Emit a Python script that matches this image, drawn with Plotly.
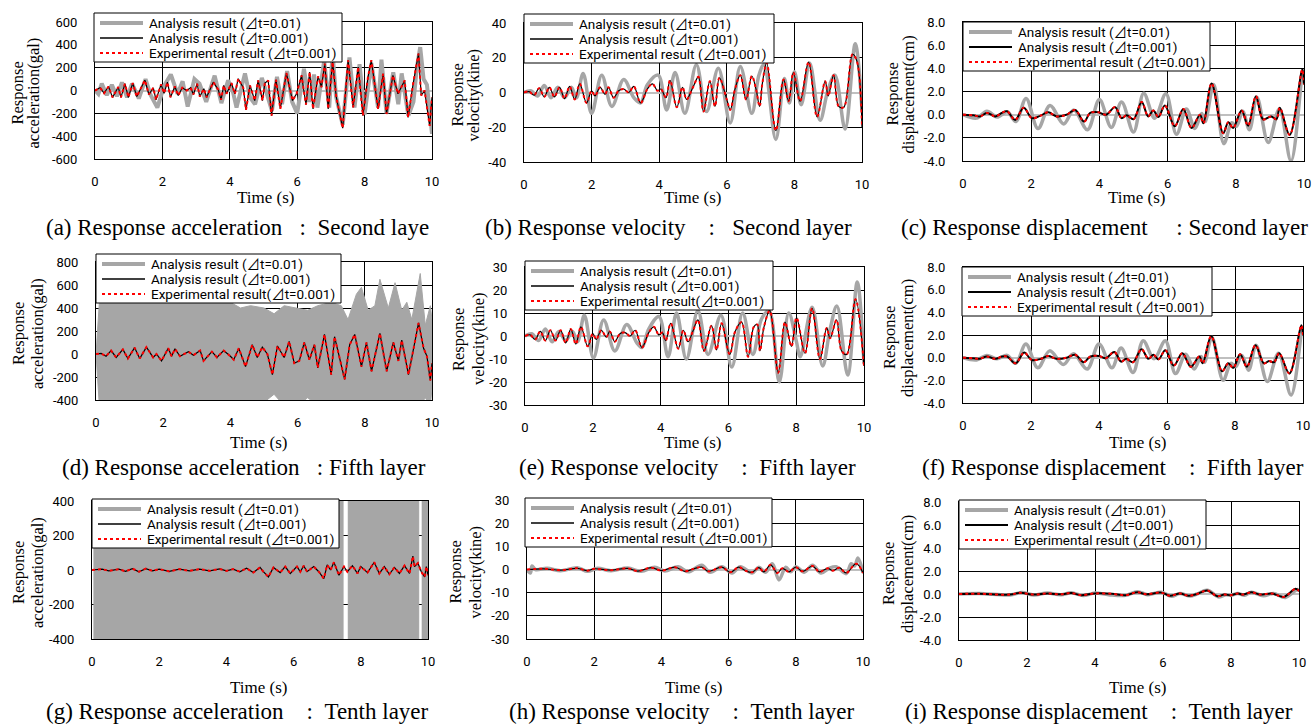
import plotly.graph_objects as go

W, H = 1312, 726

# ---------------- DATA (time s, value) ----------------
# (a) acceleration, second layer (gal)
a_dt001 = [(0,0),(0.15,24),(0.27,-24),(0.4,35),(0.52,-60),(0.69,30),(0.77,-60),(0.89,60),(0.99,-60),(1.12,65),(1.24,-53),(1.38,24),(1.48,90),(1.6,-35),(1.73,24),(1.81,-82),(1.96,53),(2.05,-24),(2.15,73),(2.24,-59),(2.37,35),(2.47,-44),(2.59,24),(2.72,0),(2.84,24),(2.92,-35),(3.03,59),(3.11,-53),(3.23,15),(3.31,-59),(3.51,73),(3.66,6),(3.74,-82),(3.82,44),(3.9,-29),(4.05,65),(4.15,-29),(4.25,103),(4.4,24),(4.48,-170),(4.6,44),(4.74,-88),(4.84,88),(4.97,-88),(5.04,65),(5.14,88),(5.24,-220),(5.37,94),(5.5,-160),(5.68,153),(5.86,-88),(5.98,-29),(6.13,132),(6.26,-124),(6.37,162),(6.47,-162),(6.62,124),(6.72,29),(6.82,235),(6.92,-162),(7.05,250),(7.16,-59),(7.35,-330),(7.51,265),(7.66,-147),(7.81,206),(7.95,-220),(8.1,118),(8.2,265),(8.4,-162),(8.55,147),(8.65,-206),(8.84,132),(8.99,-29),(9.19,88),(9.29,-235),(9.44,59),(9.6,323),(9.68,-44),(9.78,0),(9.93,-310),(10,-59)]
a_dt01 = [(0,0),(0.1,-30),(0.2,60),(0.35,-40),(0.5,50),(0.65,-50),(0.8,70),(0.95,-60),(1.1,60),(1.3,-70),(1.5,100),(1.65,-40),(1.85,-150),(2.05,40),(2.25,140),(2.45,-30),(2.6,80),(2.75,-140),(2.95,100),(3.1,60),(3.3,-100),(3.55,130),(3.75,-110),(3.95,90),(4.1,-20),(4.2,-150),(4.45,150),(4.6,-60),(4.75,-120),(4.95,110),(5.1,-30),(5.25,-180),(5.4,120),(5.55,-120),(5.7,170),(5.85,-100),(6.0,-200),(6.2,190),(6.35,-100),(6.5,140),(6.6,-150),(6.8,260),(6.95,-150),(7.05,330),(7.15,-50),(7.35,-300),(7.55,290),(7.7,-150),(7.85,230),(8.0,-210),(8.2,240),(8.4,-150),(8.5,270),(8.65,-200),(8.85,160),(9.0,-120),(9.1,150),(9.3,-220),(9.45,-100),(9.55,200),(9.65,380),(9.75,100),(9.85,50),(10,-380)]

# (b) velocity, second layer (kine)
b_dt001 = [(0,0),(0.15,0.5),(0.3,-1.5),(0.45,2.5),(0.6,-2.5),(0.75,3),(0.9,-2.5),(1.05,3),(1.2,-3.5),(1.35,3.5),(1.5,-4),(1.65,5),(1.85,-6),(2.0,1),(2.1,-2),(2.25,3),(2.4,-1),(2.5,3),(2.65,-3),(2.8,1),(2.95,2),(3.1,0),(3.25,3.5),(3.45,-6),(3.65,2),(3.8,5),(3.95,1),(4.05,2),(4.2,-3),(4.32,7),(4.52,-8.5),(4.69,3),(4.81,-4),(5.0,3),(5.16,9),(5.31,-11),(5.5,6.5),(5.65,-8),(5.78,8.5),(6.0,-4),(6.1,-10),(6.25,2.5),(6.4,10),(6.57,-4),(6.74,9.5),(6.87,1.5),(6.97,-8),(7.05,5),(7.18,17),(7.45,-22),(7.68,7.5),(7.83,-5),(7.97,11.5),(8.17,-5),(8.42,17.5),(8.67,-14),(8.91,6.5),(9.0,-2),(9.16,10),(9.31,-8),(9.46,-8.5),(9.72,22),(9.85,18),(10,-20)]
b_dt01 = [(0,0),(0.2,1),(0.4,-2),(0.6,4),(0.8,-3),(1.0,3),(1.2,-3),(1.4,3),(1.55,-3),(1.75,11),(2.0,-12),(2.3,10),(2.6,-8),(2.95,7.5),(3.25,-3),(3.45,-6),(3.65,4.5),(3.97,10),(4.22,-10),(4.47,11.5),(4.76,-12),(5.1,16),(5.4,-11),(5.75,14),(6.1,-17.5),(6.4,15),(6.74,-12),(6.95,10),(7.1,16),(7.45,-27),(7.7,8),(7.85,-6),(8.0,12),(8.2,-7),(8.45,17),(8.76,-16),(9.0,2),(9.2,10),(9.5,-21),(9.8,28),(10,-10)]

# (c) displacement, second layer (cm)
c_dt001 = [(0,0),(0.3,-0.05),(0.5,-0.15),(0.7,0.15),(0.95,-0.15),(1.14,0.15),(1.29,0.3),(1.53,-0.45),(1.78,0.6),(2.02,-0.3),(2.26,-0.1),(2.5,0.2),(2.75,-0.15),(3.04,0),(3.29,0.4),(3.55,-0.6),(3.73,0.15),(3.97,0.2),(4.2,0.0),(4.46,0.65),(4.65,-0.3),(4.8,-0.05),(5.0,-0.4),(5.24,1.1),(5.43,-0.15),(5.58,0.35),(5.73,-0.2),(5.92,0.8),(6.21,-1.0),(6.46,0.5),(6.7,-1.15),(6.95,0),(7.05,-0.75),(7.29,2.7),(7.63,-1.6),(7.78,-0.65),(7.92,-1.15),(8.17,0.35),(8.36,-0.95),(8.59,1.6),(8.8,-0.4),(9.04,-0.15),(9.19,-0.4),(9.29,0.6),(9.58,-1.75),(9.95,3.9),(10.0,2.6)]
c_dt01 = [(0,0),(0.4,-0.3),(0.7,0.3),(1.0,-0.2),(1.3,0.25),(1.55,-0.6),(1.85,1.4),(2.2,-1.2),(2.55,0.8),(2.95,-0.8),(3.25,0.4),(3.65,-1.3),(4.0,1.3),(4.35,-1.1),(4.65,1.1),(5.0,-1.5),(5.3,1.85),(5.62,-0.3),(5.95,1.8),(6.26,-1.7),(6.55,0.5),(6.8,-1.2),(7.0,0.1),(7.1,-0.6),(7.35,2.6),(7.65,-2.5),(7.88,-0.7),(8.02,-1.0),(8.2,0.3),(8.4,-1.3),(8.62,1.5),(8.95,-2.4),(9.28,0.5),(9.62,-4.0),(9.97,3.8),(10,3.5)]

# (d) acceleration, fifth layer (gal)
d_dt001 = [(0,0),(0.15,5),(0.3,-20),(0.45,30),(0.6,-30),(0.8,40),(0.95,-40),(1.15,55),(1.3,-40),(1.5,60),(1.7,-30),(1.8,0),(1.95,-60),(2.15,50),(2.25,-20),(2.35,45),(2.5,-20),(2.75,20),(2.9,-10),(3.1,30),(3.2,-60),(3.45,20),(3.6,-30),(3.8,30),(4.0,-20),(4.1,-50),(4.25,50),(4.45,-110),(4.65,80),(4.8,-30),(4.95,60),(5.1,0),(5.25,-180),(5.4,70),(5.6,-30),(5.75,110),(5.9,-80),(6.05,-60),(6.2,100),(6.35,-50),(6.5,80),(6.6,-120),(6.8,170),(7.0,-180),(7.1,150),(7.25,-40),(7.4,-220),(7.55,80),(7.7,170),(7.9,-110),(8.05,100),(8.2,-150),(8.45,180),(8.65,-150),(8.85,100),(9.0,-60),(9.1,120),(9.3,-180),(9.45,40),(9.6,270),(9.75,50),(9.85,-20),(9.95,-230),(10,-80)]
d_dt01_t     = [0.0, 0.05, 0.1, 1.0, 2.0, 3.0, 4.0, 4.3, 4.6, 5.0, 5.3, 5.6, 6.0, 6.3, 6.6, 7.0, 7.3, 7.5, 7.75, 7.9, 8.1, 8.3, 8.45, 8.7, 8.9, 9.1, 9.25, 9.4, 9.65, 9.8, 9.95, 10.0]
d_dt01_upper = [0, 200, 450, 450, 450, 450, 450, 400, 420, 400, 350, 420, 400, 380, 420, 450, 420, 300, 520, 580, 380, 420, 650, 400, 620, 380, 450, 300, 700, 250, 420, 300]
d_dt01_lower = [0, -200, -450, -450, -450, -450, -450, -420, -450, -420, -350, -450, -450, -380, -450, -420, -450, -420, -450, -450, -420, -450, -450, -450, -450, -430, -450, -420, -450, -380, -450, -300]

# (e) velocity, fifth layer (kine)
e_dt001 = [(0,0),(0.15,0.5),(0.3,-1.5),(0.45,2),(0.6,-2),(0.75,2.5),(0.9,-2),(1.05,2.5),(1.2,-3),(1.35,3),(1.5,-3.5),(1.65,4),(1.85,-4.5),(2.0,1),(2.1,-1.5),(2.25,2.5),(2.4,-0.5),(2.5,2),(2.65,-2.5),(2.8,1),(2.95,1.5),(3.1,0),(3.25,2.5),(3.45,-5),(3.65,1.5),(3.8,4),(3.95,0.5),(4.05,1.5),(4.15,-2),(4.3,5.5),(4.52,-5.5),(4.67,2.5),(4.81,-2.5),(4.95,2),(5.1,7),(5.28,-6.5),(5.5,4.5),(5.65,-6),(5.8,5.5),(6.04,-8),(6.2,2),(6.39,6),(6.58,-9),(6.75,4),(6.85,5),(6.93,-6.5),(7.05,4),(7.22,11),(7.47,-16),(7.67,6),(7.86,-4.5),(8.01,8),(8.26,-7.5),(8.47,12),(8.7,-10),(8.9,3.5),(9.0,-1),(9.19,7),(9.34,-6.5),(9.49,-8),(9.75,16),(10,-13)]
e_dt01 = [(0,0),(0.2,1),(0.4,-2),(0.6,3),(0.8,-2.5),(1.0,2),(1.2,-2),(1.4,2),(1.55,-2.5),(1.75,9),(2.02,-9.5),(2.32,7),(2.65,-6.5),(3.0,5),(3.3,-3),(3.45,-5),(3.65,3),(3.95,8.5),(4.22,-9),(4.47,10),(4.76,-10),(5.1,11),(5.4,-8),(5.78,9),(6.1,-13.5),(6.42,10),(6.72,-8),(6.98,7.5),(7.2,11),(7.5,-20),(7.78,10),(8.0,-2),(8.12,-9),(8.47,12.5),(8.78,-13),(9.0,3),(9.2,13),(9.52,-17),(9.8,23.5),(10,-12)]

# (f) displacement, fifth layer (cm)
f_dt001 = [(0,0),(0.3,-0.05),(0.5,-0.1),(0.7,0.1),(0.95,-0.1),(1.15,0.1),(1.3,0.1),(1.55,-0.5),(1.8,0.45),(2.02,-0.2),(2.3,-0.1),(2.5,0.15),(2.75,-0.1),(3.05,0.0),(3.3,0.25),(3.55,-0.4),(3.75,0.1),(4.0,0.15),(4.2,-0.05),(4.45,0.5),(4.65,-0.35),(4.8,-0.1),(5.0,-0.4),(5.25,0.75),(5.45,-0.1),(5.6,0.25),(5.75,-0.15),(5.95,0.65),(6.2,-0.7),(6.45,0.4),(6.7,-0.8),(6.95,0.1),(7.05,-0.5),(7.3,1.9),(7.62,-1.2),(7.8,-0.5),(7.95,-0.9),(8.15,0.3),(8.35,-0.8),(8.6,1.1),(8.85,-0.5),(9.0,-0.3),(9.15,-0.4),(9.3,0.4),(9.6,-1.4),(9.95,2.85),(10,2.0)]
f_dt01 = [(0,0),(0.4,-0.2),(0.7,0.2),(1.0,-0.1),(1.3,0.2),(1.55,-0.5),(1.85,1.2),(2.2,-0.9),(2.55,0.6),(2.95,-0.6),(3.25,0.35),(3.65,-1.0),(4.0,1.2),(4.38,-0.9),(4.65,0.85),(5.0,-1.3),(5.3,1.5),(5.62,-0.1),(5.95,1.5),(6.25,-1.4),(6.55,0.3),(6.8,-1.0),(7.0,0.1),(7.1,-0.4),(7.32,1.8),(7.65,-2.0),(7.88,-0.5),(8.02,-0.8),(8.2,0.2),(8.4,-1.1),(8.62,1.1),(8.95,-2.1),(9.28,0.4),(9.65,-3.3),(9.98,2.6),(10,2.4)]

# (g) acceleration, tenth layer (gal)
g_dt001 = [(0,0),(0.3,5),(0.5,-5),(0.8,5),(1.0,-8),(1.2,8),(1.4,-10),(1.6,8),(1.8,-5),(2.0,5),(2.3,-8),(2.6,5),(2.9,-5),(3.2,5),(3.5,-5),(3.8,6),(4.0,-5),(4.2,5),(4.4,-10),(4.6,10),(4.8,-15),(5.0,15),(5.1,-10),(5.25,-40),(5.4,15),(5.6,-15),(5.75,20),(5.9,-20),(6.1,20),(6.2,-10),(6.3,25),(6.4,-10),(6.6,20),(6.75,-10),(6.9,-50),(7.0,30),(7.1,0),(7.2,45),(7.35,-30),(7.5,20),(7.6,-10),(7.75,25),(7.9,-20),(8.0,20),(8.2,-15),(8.4,45),(8.55,-20),(8.7,20),(8.85,-25),(9.0,15),(9.15,-20),(9.3,25),(9.45,-20),(9.55,80),(9.6,20),(9.7,40),(9.8,-10),(9.9,-40),(9.95,20),(10,-30)]
g_dt01_start = [0.05, 7.62, 9.82]
g_dt01_end   = [7.48, 9.73, 10.0]
g_dt01_level = 500

# (h) velocity, tenth layer (kine)
h_dt001 = [(0,0),(0.5,0.3),(1,-0.3),(1.5,0.5),(1.8,-0.5),(2,0.3),(2.5,-0.3),(3,0.5),(3.3,-0.7),(3.7,0.8),(4,-0.5),(4.4,1),(4.7,-0.8),(5.0,0.5),(5.2,1),(5.4,-0.8),(5.8,1),(6.05,-1.2),(6.3,1),(6.5,-0.5),(6.7,-1.2),(6.9,0.8),(7.05,-1),(7.25,2),(7.45,-1.5),(7.6,0.5),(7.8,-1),(8.0,1),(8.2,-0.8),(8.5,1.5),(8.7,-1),(8.95,0.5),(9.1,-0.5),(9.3,0.8),(9.5,-1.5),(9.8,2.5),(10,-1.5)]
h_dt01 = [(0,0),(0.1,-1.5),(0.15,1.5),(0.25,0),(0.6,0.5),(1.0,-0.5),(1.5,0.8),(1.8,-0.8),(2.1,0.5),(2.5,-0.5),(3.0,0.6),(3.4,-0.8),(3.8,1),(4.1,-0.6),(4.5,1.2),(4.8,-1),(5.2,1.8),(5.45,-1.2),(5.8,1.2),(6.1,-1.5),(6.35,1.2),(6.7,-1.5),(6.9,1),(7.1,-1.2),(7.3,2.5),(7.5,-4.5),(7.7,1),(7.85,-1),(8.0,1.2),(8.25,-1.2),(8.5,1.8),(8.75,-1.5),(9.0,0.6),(9.2,1.2),(9.5,-1.8),(9.65,2.5),(9.75,1.5),(9.85,5),(10,-1.5)]

# (i) displacement, tenth layer (cm)
i_dt001 = [(0,0),(0.6,0.02),(1.5,-0.05),(1.8,0.1),(2.2,-0.05),(2.6,0.05),(3.0,-0.03),(3.3,0.08),(3.6,-0.1),(4.0,0.05),(4.5,0.02),(4.9,-0.1),(5.25,0.15),(5.5,-0.02),(5.95,0.12),(6.2,-0.15),(6.5,0.05),(6.75,-0.15),(7.0,0.0),(7.3,0.3),(7.6,-0.2),(7.8,-0.05),(8.0,-0.1),(8.2,0.05),(8.35,-0.05),(8.6,0.15),(8.85,-0.05),(9.2,0.05),(9.55,-0.25),(9.9,0.45),(10,0.25)]
i_dt01 = [(0,0),(0.6,0.04),(1.5,-0.08),(1.85,0.12),(2.2,-0.08),(2.6,0.08),(3.0,-0.06),(3.3,0.1),(3.65,-0.14),(4.0,0.08),(4.4,-0.06),(4.9,-0.12),(5.25,0.2),(5.55,-0.06),(5.95,0.16),(6.25,-0.2),(6.5,0.05),(6.8,-0.18),(7.0,0.0),(7.3,0.32),(7.65,-0.26),(7.85,-0.06),(8.0,-0.12),(8.2,0.05),(8.4,-0.1),(8.6,0.16),(8.95,-0.16),(9.25,0.05),(9.6,-0.3),(9.95,0.4),(10,0.3)]

# tick values
x_ticks = [0, 2, 4, 6, 8, 10]
acc2_ticks = [-600, -400, -200, 0, 200, 400, 600]
acc5_ticks = [-400, -200, 0, 200, 400, 600, 800]
acc10_ticks = [-400, -200, 0, 200, 400]
vel2_ticks = [-40, -20, 0, 20, 40]
vel_ticks = [-30, -20, -10, 0, 10, 20, 30]
disp_ticks = [-4.0, -2.0, 0.0, 2.0, 4.0, 6.0, 8.0]

L01 = "Analysis result (⊿t=0.01)"
L001 = "Analysis result (⊿t=0.001)"
LEXP = "Experimental result (⊿t=0.001)"
LEXP2 = "Experimental result(⊿t=0.001)"

NB = '\u00a0'

# ---------------- LAYOUT SPECS ----------------
panels = [
    dict(key='a', box=(95, 432, 22, 159), leg=(94, 13, 248), ticks=acc2_ticks, fmt='d', ylab=('Response', 'acceleration(gal)'), ylx=(17, 33),
         cap="(a) Response acceleration" + NB*3 + ":" + NB*2 + "Second laye", capxy=(44, 227), tx=(265, 197),
         an=a_dt001, gray=a_dt01, shape='linear', gw=4, bw=1.2, exp=LEXP),
    dict(key='b', box=(524, 862, 23, 162), leg=(524, 14, 250), ticks=vel2_ticks, fmt='d', ylab=('Response', 'velocity(kine)'), ylx=(457, 473),
         cap="(b) Response velocity" + NB*4 + ":" + NB*3 + "Second layer", capxy=(483, 227), tx=(692, 197),
         an=b_dt001, gray=b_dt01, shape='spline', gw=3.5, bw=1.2, exp=LEXP),
    dict(key='c', box=(963, 1304, 22, 161), leg=(963, 22, 247), ticks=disp_ticks, fmt='.1f', ylab=('Response', 'displacement(cm)'), ylx=(892, 908),
         cap="(c) Response displacement" + NB*5 + ":" + NB + "Second layer", capxy=(899, 227), tx=(1136, 197),
         an=c_dt001, gray=c_dt01, shape='spline', gw=3.5, bw=2, exp=LEXP),
    dict(key='d', box=(96, 432, 262, 400), leg=(96, 254, 245), ticks=acc5_ticks, fmt='d', ylab=('Response', 'acceleration(gal)'), ylx=(18, 37),
         cap="(d) Response acceleration" + NB*3 + ":" + NB + "Fifth layer", capxy=(60, 467), tx=(258, 442),
         an=d_dt001, gray=None, shape='linear', gw=4, bw=1.2, exp=LEXP2),
    dict(key='e', box=(525, 864, 267, 405), leg=(525, 261, 248), ticks=vel_ticks, fmt='d', ylab=('Response', 'velocity(kine)'), ylx=(458, 478),
         cap="(e) Response velocity" + NB*4 + ":" + NB*2 + "Fifth layer", capxy=(517, 467), tx=(692, 442),
         an=e_dt001, gray=e_dt01, shape='spline', gw=3.5, bw=1.2, exp=LEXP2),
    dict(key='f', box=(963, 1303, 267, 403), leg=(962, 267, 250), ticks=disp_ticks, fmt='.1f', ylab=('Response', 'displacement(cm)'), ylx=(890, 908),
         cap="(f) Response displacement" + NB*4 + ":" + NB*2 + "Fifth layer", capxy=(920, 467), tx=(1137, 442),
         an=f_dt001, gray=f_dt01, shape='spline', gw=3.5, bw=2, exp=LEXP),
    dict(key='g', box=(92, 428, 501, 639), leg=(92, 499, 247), ticks=acc10_ticks, fmt='d', ylab=('Response', 'acceleration(gal)'), ylx=(18, 37),
         cap="(g) Response acceleration" + NB*4 + ":" + NB*2 + "Tenth layer", capxy=(44, 711), tx=(258, 687),
         an=g_dt001, gray=None, shape='linear', gw=4, bw=1.2, exp=LEXP),
    dict(key='h', box=(527, 863, 500, 639), leg=(525, 498, 247), ticks=vel_ticks, fmt='d', ylab=('Response', 'velocity(kine)'), ylx=(455, 475),
         cap="(h) Response velocity" + NB*4 + ":" + NB*2 + "Tenth layer", capxy=(507, 711), tx=(693, 687),
         an=h_dt001, gray=h_dt01, shape='spline', gw=3.5, bw=1.2, exp=LEXP),
    dict(key='i', box=(959, 1299, 502, 640), leg=(959, 500, 247), ticks=disp_ticks, fmt='.1f', ylab=('Response', 'displacement(cm)'), ylx=(888, 907),
         cap="(i) Response displacement" + NB*4 + ":" + NB*2 + "Tenth layer", capxy=(903, 711), tx=(1137, 687),
         an=i_dt001, gray=i_dt01, shape='spline', gw=3.5, bw=2, exp=LEXP),
]

GRAY = '#a6a6a6'
TICKFONT = dict(family='Roboto', size=13, color='black')
LEGFONT = dict(family="Roboto, 'Noto Sans CJK JP'", size=13.5, color='black')
SERIF = 'Liberation Serif'

fig = go.Figure()
layout = dict(width=W, height=H, margin=dict(l=0, r=0, t=0, b=0, autoexpand=False),
              paper_bgcolor='white', plot_bgcolor='white', showlegend=False)
annotations = []
shapes = []


def fx(p):
    return p / W


def fy(p):
    return 1 - p / H


def unzip(pairs):
    return [p[0] for p in pairs], [p[1] for p in pairs]


for k, P in enumerate(panels):
    n = k + 1
    sfx = '' if n == 1 else str(n)
    xr, yr = 'x' + sfx, 'y' + sfx
    l, r, t, b = P['box']
    ticks = P['ticks']
    common = dict(xaxis=xr, yaxis=yr, showlegend=False)

    # gray: analysis dt=0.01
    if P['key'] == 'd':
        fig.add_trace(go.Scatter(x=d_dt01_t, y=d_dt01_upper, mode='lines', name=L01,
                                 line=dict(color=GRAY, width=1), hoverinfo='skip', **common))
        fig.add_trace(go.Scatter(x=d_dt01_t, y=d_dt01_lower, mode='lines', name=L01, fill='tonexty',
                                 fillcolor=GRAY, line=dict(color=GRAY, width=1), hoverinfo='skip', **common))
    elif P['key'] == 'g':
        px_, py_ = [], []
        for s0, s1 in zip(g_dt01_start, g_dt01_end):
            px_ += [s0, s1, s1, s0, s0, None]
            py_ += [-g_dt01_level, -g_dt01_level, g_dt01_level, g_dt01_level, -g_dt01_level, None]
        fig.add_trace(go.Scatter(x=px_, y=py_, mode='lines', fill='toself', fillcolor=GRAY, name=L01,
                                 line=dict(color=GRAY, width=0.5), hoverinfo='skip', **common))
    else:
        gx, gy = unzip(P['gray'])
        fig.add_trace(go.Scatter(x=gx, y=gy, mode='lines', name=L01,
                                 line=dict(color=GRAY, width=P['gw'], shape=P['shape'], smoothing=1.0), **common))

    ax_, ay_ = unzip(P['an'])
    fig.add_trace(go.Scatter(x=ax_, y=ay_, mode='lines', name=L001,
                             line=dict(color='black', width=P['bw'], shape=P['shape'], smoothing=1.0), **common))
    fig.add_trace(go.Scatter(x=ax_, y=ay_, mode='lines', name=P['exp'],
                             line=dict(color='red', width=2, dash='dot', shape=P['shape'], smoothing=1.0), **common))

    layout['xaxis' + sfx] = dict(domain=[fx(l), fx(r)], anchor=yr, range=[0, 10], tickvals=x_ticks,
                                 ticktext=[str(v) for v in x_ticks], showgrid=True, gridcolor='black', gridwidth=1,
                                 showline=True, linecolor='black', linewidth=1, mirror=True, zeroline=False,
                                 ticks='', tickfont=TICKFONT, ticklabelstandoff=10, fixedrange=True)
    if P['fmt'] == '.1f':
        ttext = ['%.1f' % v for v in ticks]
    else:
        ttext = [str(v) for v in ticks]
    layout['yaxis' + sfx] = dict(domain=[fy(b), fy(t)], anchor=xr, range=[ticks[0], ticks[-1]], tickvals=ticks,
                                 ticktext=ttext, showgrid=True, gridcolor='black', gridwidth=1,
                                 showline=True, linecolor='black', linewidth=1, mirror=True,
                                 zeroline=True, zerolinecolor='#bfbfbf', zerolinewidth=1.5,
                                 ticks='', tickfont=TICKFONT, ticklabelstandoff=14, fixedrange=True)

    # legend box (drawn as layout decoration)
    lx, ly, lw = P['leg']
    lh = 49
    shapes.append(dict(type='rect', xref='paper', yref='paper', x0=fx(lx), x1=fx(lx + lw), y0=fy(ly + lh), y1=fy(ly),
                       line=dict(color='black', width=1), fillcolor='white', layer='above'))
    rows = [(L01, dict(color=GRAY, width=4)),
            (L001, dict(color='black', width=2 if P['bw'] >= 2 else 1.5)),
            (P['exp'], dict(color='red', width=2, dash='dot'))]
    for j, (txt, ln) in enumerate(rows):
        yy = ly + 10 + 15 * j
        shapes.append(dict(type='line', xref='paper', yref='paper', x0=fx(lx + 6), x1=fx(lx + 49),
                           y0=fy(yy), y1=fy(yy), line=ln, layer='above'))
        annotations.append(dict(text=txt, x=fx(lx + 53), y=fy(yy), xref='paper', yref='paper', showarrow=False,
                                xanchor='left', yanchor='middle', font=LEGFONT))

    # y-axis title (two lines)
    yc = (t + b) / 2 + 3
    for txt, xpos in zip(P['ylab'], P['ylx']):
        annotations.append(dict(text=txt, x=fx(xpos), y=fy(yc), xref='paper', yref='paper', showarrow=False,
                                textangle=-90, xanchor='center', yanchor='middle',
                                font=dict(family=SERIF, size=16.5, color='black')))
    # x-axis title
    annotations.append(dict(text='Time (s)', x=fx(P['tx'][0]), y=fy(P['tx'][1]), xref='paper', yref='paper',
                            showarrow=False, xanchor='center', yanchor='middle',
                            font=dict(family=SERIF, size=17, color='black')))
    # caption
    annotations.append(dict(text=P['cap'], x=fx(P['capxy'][0]), y=fy(P['capxy'][1]), xref='paper', yref='paper',
                            showarrow=False, xanchor='left', yanchor='middle',
                            font=dict(family=SERIF, size=23, color='black')))

layout['annotations'] = annotations
layout['shapes'] = shapes
fig.update_layout(**layout)
fig.write_html("out.html", config={'displayModeBar': False},
               post_script="document.body.style.margin='0';document.body.style.overflow='hidden';")
